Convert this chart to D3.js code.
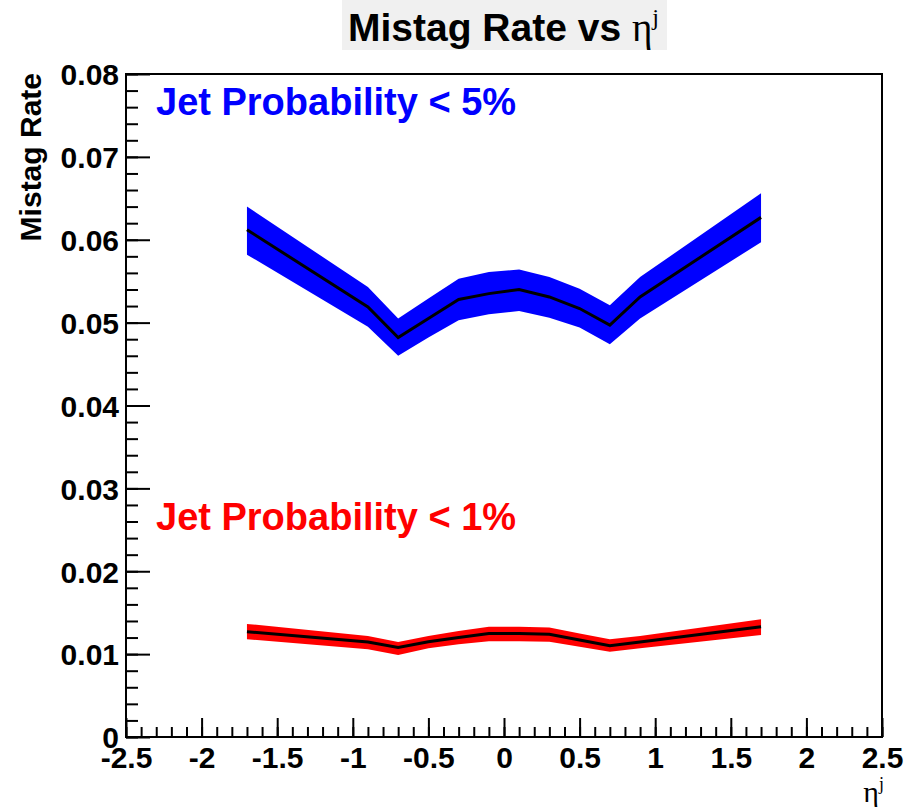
<!DOCTYPE html>
<html>
<head>
<meta charset="utf-8">
<script src="https://cdn.jsdelivr.net/npm/d3@7"></script>
<style>
  body { margin: 0; background: #fff; }
  svg text { font-family: "Liberation Sans", Arial, sans-serif; font-weight: bold; }
</style>
</head>
<body>
<svg id="chart" width="911" height="807"></svg>
<script>
// eta bins (centres)
const eta = [-1.7, -0.9, -0.7, -0.5, -0.3, -0.1, 0.1, 0.3, 0.5, 0.7, 0.9, 1.7];

// JP < 5% : central value and band edges
const jp5 = [0.0612, 0.0519, 0.0482, 0.0505, 0.0528, 0.0535, 0.0540, 0.0531, 0.0517, 0.0497, 0.0531, 0.0627];
const jp5Hi = [0.0640, 0.0543, 0.0505, 0.0529, 0.0553, 0.0561, 0.0564, 0.0555, 0.0541, 0.0521, 0.0555, 0.0656];
const jp5Lo = [0.0582, 0.0495, 0.0460, 0.0482, 0.0503, 0.0510, 0.0514, 0.0506, 0.0494, 0.0474, 0.0505, 0.0597];

// JP < 1%
const jp1 = [0.0127, 0.01145, 0.0108, 0.0115, 0.0120, 0.0125, 0.0125, 0.0124, 0.0117, 0.0110, 0.01145, 0.0133];
const jp1Hi = [0.01365, 0.0122, 0.01145, 0.0122, 0.0128, 0.0133, 0.0133, 0.0132, 0.0125, 0.0118, 0.0122, 0.0142];
const jp1Lo = [0.0118, 0.0106, 0.0099, 0.0107, 0.0112, 0.01155, 0.01155, 0.0115, 0.0109, 0.0103, 0.0107, 0.0123];

const xTicks = [-2.5, -2, -1.5, -1, -0.5, 0, 0.5, 1, 1.5, 2, 2.5];
const xTickLabels = ["-2.5", "-2", "-1.5", "-1", "-0.5", "0", "0.5", "1", "1.5", "2", "2.5"];
const yTicks = [0, 0.01, 0.02, 0.03, 0.04, 0.05, 0.06, 0.07, 0.08];
const yTickLabels = ["0", "0.01", "0.02", "0.03", "0.04", "0.05", "0.06", "0.07", "0.08"];

const frame = {left: 126, right: 882, top: 74, bottom: 737};

const svg = d3.select("#chart");

let x = d3.scaleLinear().domain([-2.5, 2.5]).range([frame.left, frame.right]);
let y = d3.scaleLinear().domain([0, 0.08]).range([frame.bottom, frame.top]);

// bands
function drawSeries(mid, lo, hi, fill) {
  const pts = eta.map((e, i) => ({e: e, m: mid[i], l: lo[i], h: hi[i]}));
  svg.append("path")
    .attr("d", d3.area().x(d => x(d.e)).y0(d => y(d.l)).y1(d => y(d.h))(pts))
    .attr("fill", fill);
  svg.append("path")
    .attr("d", d3.line().x(d => x(d.e)).y(d => y(d.m))(pts))
    .attr("fill", "none")
    .attr("stroke", "#000")
    .attr("stroke-width", 3);
}
drawSeries(jp5, jp5Lo, jp5Hi, "#0000ff");
drawSeries(jp1, jp1Lo, jp1Hi, "#ff0000");

// minor ticks
let xMinor = d3.range(-25, 26).map(d => d / 10);
let yMinor = d3.range(0, 41).map(d => d * 0.002);

svg.append("g")
  .attr("transform", "translate(0," + frame.bottom + ")")
  .call(d3.axisBottom(x).tickValues(xMinor).tickSize(-10).tickFormat(""))
  .call(g => g.select(".domain").remove());
svg.append("g")
  .attr("transform", "translate(" + frame.left + ",0)")
  .call(d3.axisLeft(y).tickValues(yMinor).tickSize(-12).tickFormat(""))
  .call(g => g.select(".domain").remove());

// major ticks + labels
let xAxis = svg.append("g")
  .attr("transform", "translate(0," + frame.bottom + ")")
  .call(d3.axisBottom(x).tickValues(xTicks).tickSize(-19).tickPadding(9)
    .tickFormat((d, i) => xTickLabels[i]))
  .call(g => g.select(".domain").remove());
xAxis.selectAll("text").attr("font-size", 30).attr("fill", "#000")
  .attr("dy", "0.72em");

let yAxis = svg.append("g")
  .attr("transform", "translate(" + frame.left + ",0)")
  .call(d3.axisLeft(y).tickValues(yTicks).tickSize(-24).tickPadding(7)
    .tickFormat((d, i) => yTickLabels[i]))
  .call(g => g.select(".domain").remove());
yAxis.selectAll("text").attr("font-size", 30).attr("fill", "#000")
  .attr("dy", "0.36em");

svg.selectAll("g").attr("font-family", null).attr("font-size", null);
svg.selectAll(".tick line").attr("stroke", "#000").attr("stroke-width", 2);

// frame
svg.append("rect")
  .attr("x", frame.left).attr("y", frame.top)
  .attr("width", frame.right - frame.left).attr("height", frame.bottom - frame.top)
  .attr("fill", "none").attr("stroke", "#000").attr("stroke-width", 2);

// title box
svg.append("rect")
  .attr("x", 342).attr("y", 0).attr("width", 325).attr("height", 50)
  .attr("fill", "#f0f0f0");
let title = svg.append("text")
  .attr("x", 348).attr("y", 41)
  .attr("font-size", 39).attr("fill", "#000");
title.append("tspan").text("Mistag Rate vs ");
title.append("tspan").text("η")
  .style("font-weight", "normal").style("font-family", "'Liberation Serif', serif");
title.append("tspan").text("j").attr("font-size", 24).style("font-weight", "normal")
  .style("font-family", "'Liberation Serif', serif").attr("dy", -16);

// axis titles
svg.append("text")
  .attr("transform", "translate(41,73) rotate(-90)")
  .attr("text-anchor", "end")
  .attr("font-size", 30)
  .text("Mistag Rate");

let xt = svg.append("text")
  .attr("x", 884).attr("y", 802)
  .attr("text-anchor", "end")
  .attr("font-size", 30)
  .style("font-weight", "normal")
  .style("font-family", "'Liberation Serif', serif");
xt.append("tspan").text("η");
xt.append("tspan").text("j").attr("font-size", 18).attr("dy", -12);

// series labels
svg.append("text")
  .attr("x", 156).attr("y", 115)
  .attr("font-size", 38).attr("fill", "#0000ff")
  .text("Jet Probability < 5%");
svg.append("text")
  .attr("x", 156).attr("y", 530)
  .attr("font-size", 38).attr("fill", "#ff0000")
  .text("Jet Probability < 1%");
</script>
</body>
</html>
